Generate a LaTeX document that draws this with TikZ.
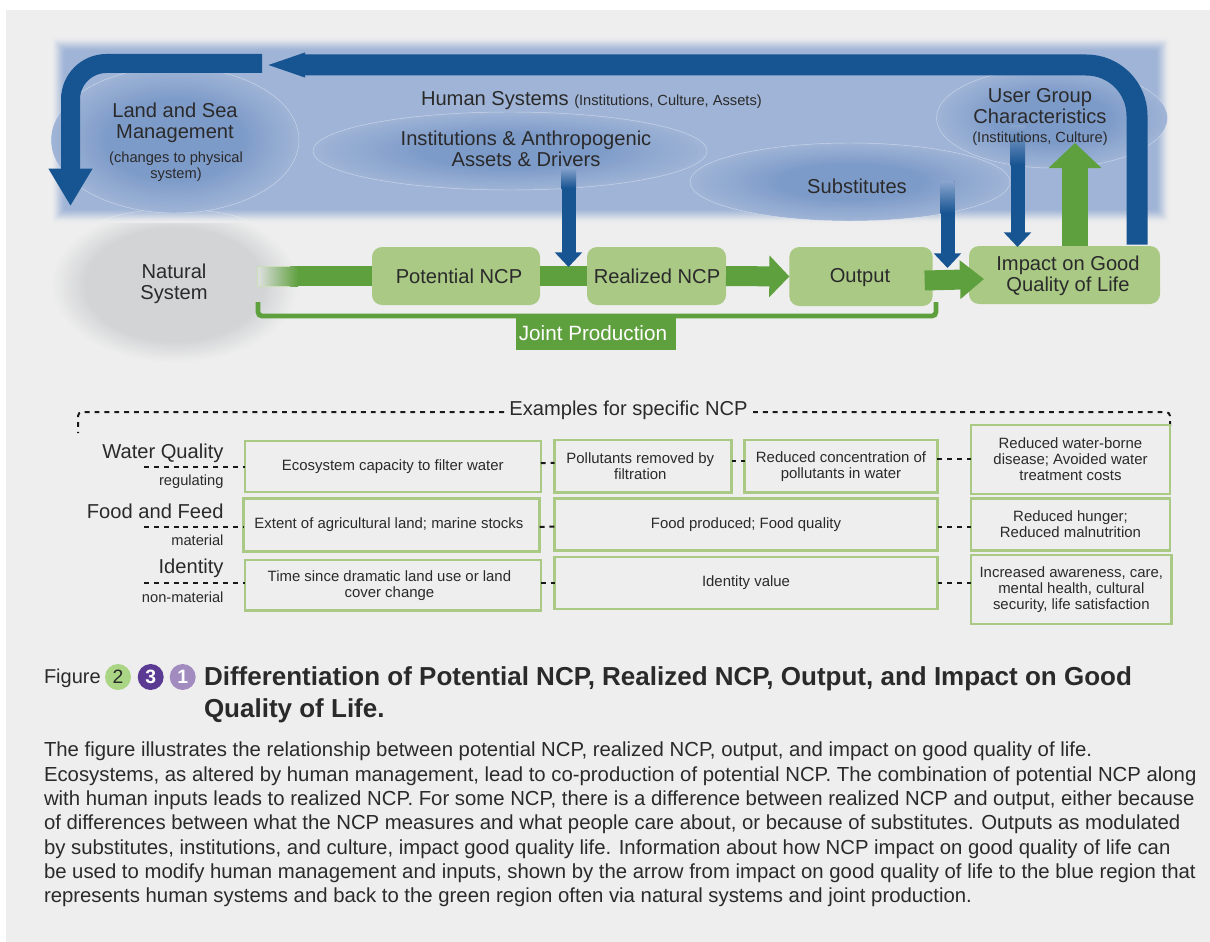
\documentclass[tikz,border=0pt]{standalone}
\usepackage{fontspec}
\setmainfont{Liberation Sans}
\usetikzlibrary{arrows.meta,calc,shapes.geometric}
\definecolor{panel}{HTML}{EEEEEE}
\definecolor{hsblue}{HTML}{9FB4D6}
\definecolor{hsdeep}{HTML}{7D9BC9}
\definecolor{arrowblue}{HTML}{175492}
\definecolor{boxgreen}{HTML}{A9C985}
\definecolor{arrowgreen}{HTML}{5FA03E}
\definecolor{natgrey}{HTML}{D3D4D6}
\definecolor{ink}{HTML}{2B2A2B}
\definecolor{cgreen}{HTML}{A9D584}
\definecolor{cpurple}{HTML}{5A3A92}
\definecolor{clilac}{HTML}{A28BBF}
% nested ellipses: centre x, centre y, x radius, y radius, edge colour, core colour, core fraction
\newcommand{\softblob}[7]{%
  \foreach \k in {0,...,24}{%
    \pgfmathsetmacro{\ff}{1-(\k/24)*(1-#7)}%
    \pgfmathsetmacro{\mm}{100*\k/24}%
    \colorlet{blobcol}{#6!\mm!#5}%
    \fill[blobcol] (#1,#2) ellipse [x radius=#3*\ff,y radius=#4*\ff];
  }%
}
\newcommand{\szbig}{\fontsize{15.1}{16}\selectfont}
\newcommand{\szsmall}{\fontsize{11}{12}\selectfont}
\newcommand{\szbox}{\fontsize{11.2}{12}\selectfont}
\tikzset{
  x=0.75pt,y=-0.75pt,
  every node/.style={text=ink,inner sep=0pt,outer sep=0pt},
  lbl/.style={font=\szbig,align=center},
  lblsmall/.style={font=\szsmall,align=center},
  ellrim/.style={draw=white,draw opacity=.45,line width=.35pt},
  stagebox/.style={fill=boxgreen,rounded corners=7.5pt},
  gbar/.style={draw=arrowgreen,line width=15pt},
  garrow/.style={draw=arrowgreen,-{Triangle[length=15pt,width=30.5pt]}},
  bdown/.style={draw=arrowblue,line width=10.5pt,-{Triangle[length=11pt,width=20pt]}},
  exbox/.style={draw=boxgreen,line width=1.8pt,font=\szbox,align=center,fill=panel},
  dashline/.style={draw=black!90,line width=1.5pt,dash pattern=on 3.7pt off 3.7pt},
  rowname/.style={font=\szbig,anchor=east},
  rowkind/.style={font=\szsmall,anchor=east},
  badge/.style={circle,minimum size=19.5pt,font=\fontsize{14.5}{16}\selectfont}
}
\begin{document}
\begin{tikzpicture}
\useasboundingbox (0,0) rectangle (1210,942);
\fill[white] (0,0) rectangle (1210,942);
\fill[panel] (6,10) rectangle (1210,942);
% natural system
\softblob{175}{285}{124}{78}{panel}{natgrey}{0.72}
% human systems region with soft edge
\foreach \i in {0,...,15}{
  \pgfmathsetmacro{\tt}{(\i+1)/16}
  \pgfmathsetmacro{\mixp}{100*\tt*\tt*(3-2*\tt)}
  \colorlet{stepcol}{hsblue!\mixp!panel}
  \fill[stepcol,rounded corners=2pt] (51+\i,37+\i) rectangle (1170-\i,223-\i);
}
\draw[white,opacity=.4,line width=.35pt] (100,222) .. controls (130,205) and (220,205) .. (250,222);
% soft ellipses
\softblob{175}{140}{124}{73}{hsblue}{hsdeep}{0.55}
\draw[ellrim] (175,140) ellipse [x radius=124,y radius=73];
\softblob{510}{151}{197}{39}{hsblue}{hsdeep}{0.45}
\draw[ellrim] (510,151) ellipse [x radius=197,y radius=39];
\softblob{850}{182}{160}{39}{hsblue}{hsdeep}{0.45}
\draw[ellrim] (850,182) ellipse [x radius=160,y radius=39];
\softblob{1052}{118}{115.5}{50}{hsblue}{hsdeep}{0.5}
\draw[ellrim] (1052,118) ellipse [x radius=115.5,y radius=50];
% stage boxes
\node[stagebox,minimum width=126pt,minimum height=43.5pt] (pot) at (456,276) {};
\node[stagebox,minimum width=104.25pt,minimum height=43.5pt] (real) at (656.5,276) {};
\node[stagebox,minimum width=107.5pt,minimum height=44.25pt] (out) at (861,276.5) {};
\node[stagebox,minimum width=143.25pt,minimum height=43.5pt] (imp) at (1064.5,275) {};
% free ends
\coordinate (barstart) at (257,276);
\coordinate (fbstart) at (262,63.5);
\coordinate (fbcorner) at (70.5,63.5);
\coordinate (fbend) at (70.5,206);
\coordinate (toptip) at (263,65);
\coordinate (topcorner) at (1137,65);
\coordinate (instsrc) at (568.5,167);
\coordinate (subsrc) at (947.5,181);
\coordinate (usersrc) at (1017.5,125);
\coordinate (usertip) at (1075,143);
% green flow
\draw[gbar] (barstart) -- (pot.west);
\shade[left color=natgrey!70!white,middle color=natgrey!65!arrowgreen,right color=arrowgreen] (257,266) rectangle (298,286);
\draw[boxgreen!60,line width=.4pt] (290,266) -- (257,266) -- (257,286) -- (290,286);
\draw[gbar] (pot.east) -- (real.west);
\draw[garrow,line width=15pt] (real.east) -- (out.west);
\draw[garrow,line width=15pt,-{Triangle[length=18pt,width=28pt]}] ([xshift=-6pt,yshift=-3pt]out.east) -- ([xshift=11.25pt,yshift=-3pt]imp.west);
\draw[draw=arrowgreen,line width=19.5pt,-{Triangle[length=18.75pt,width=38.5pt]}] (imp.north -| usertip) -- (usertip);
% feedback arrows
\draw[draw=arrowblue,line width=14.25pt,rounded corners=27pt,-{Triangle[length=28pt,width=31pt]}] (fbstart) -- (fbcorner) -- (fbend);
\draw[draw=arrowblue,line width=15.75pt,rounded corners=38pt,-{Triangle[length=31.5pt,width=15.75pt]}] ([yshift=1pt]imp.north -| topcorner) -- (topcorner) -- (toptip);
% blue down arrows with fading top
\draw[bdown] (instsrc) -- ([yshift=6.75pt]instsrc |- pot.center);
\draw[bdown] (subsrc) -- ([yshift=-15.75pt]subsrc |- out.north);
\draw[bdown] (usersrc) -- ([yshift=-.75pt]usersrc |- imp.north);
\shade[top color=hsdeep!90!white,bottom color=arrowblue] (561,167) rectangle (576,188);
\shade[top color=hsdeep!90!white,bottom color=arrowblue] (940.5,181) rectangle (954.5,213);
\shade[top color=hsdeep!90!white,bottom color=arrowblue] (1010.5,125) rectangle (1025,165);
% joint production
\node[fill=arrowgreen,text=white,font=\fontsize{15.5}{16}\selectfont,minimum width=120pt,minimum height=24pt] (joint) at (596,334) {\hspace*{-4.5pt}\raisebox{1.2pt}{Joint Production}};
\coordinate (jl) at (258,302);
\coordinate (jr) at (936,302);
\draw[draw=arrowgreen,line width=3.6pt,rounded corners=3pt] (jl) -- (258,316) -- (936,316) -- (jr);
% labels in the top part
\node[lbl] (potl) at (459,276.5) {Potential NCP};
\node[lbl] (reall) at (657,276) {Realized NCP};
\node[lbl] (outl) at (860,278) {Output};
\node[lbl] (impl) at (1068,276) {Impact on Good\\[-0.2pt]Quality of Life};
\node[lbl] (land) at (175,122.5) {Land and Sea\\[-0.2pt]Management};
\node[lblsmall] (landsub) at (176,166.5) {(changes to physical\\system)};
\node[lbl,anchor=base west] (hs) at (421,105) {Human Systems \szsmall(Institutions, Culture, Assets)};
\node[lbl] (inst) at (526,149) {Institutions \& Anthropogenic\\[-0.2pt]Assets \& Drivers};
\node[lbl] (subs) at (857,186.5) {Substitutes};
\node[lbl] (user) at (1040,106) {User Group\\[-0.2pt]Characteristics};
\node[lblsmall] (usersub) at (1040,139) {(Institutions, Culture)};
\node[lbl] (nat) at (174,284) {Natural\\[-0.2pt]System};
% examples
\node[font=\szbig] (ex) at (628.5,410.5) {Examples for specific NCP};
\coordinate (extop) at (0,412);
\coordinate (exl) at (78,433);
\coordinate (exr) at (1170,428);
\draw[dashline,rounded corners=3pt] ([xshift=-4pt]ex.west |- extop) -- (exl |- extop) -- (exl);
\draw[dashline,rounded corners=3pt] ([xshift=4pt]ex.east |- extop) -- (exr |- extop) -- (exr);
% row 1
\node[exbox,minimum width=222pt,minimum height=38.25pt] (a1) at (392.75,466.6) {Ecosystem capacity to filter water};
\node[exbox,minimum width=132.75pt,minimum height=39.5pt] (a2) at (643,466.35) {\hspace*{-4pt}Pollutants removed by\\\hspace*{-4pt}filtration};
\node[exbox,minimum width=144.5pt,minimum height=39.5pt] (a3) at (841,466.35) {Reduced concentration of\\pollutants in water};
\node[exbox,minimum width=149.25pt,minimum height=51.75pt] (a4) at (1070.5,459.5) {Reduced water-borne\\disease; Avoided water\\treatment costs};
% row 2
\node[exbox,minimum width=222pt,minimum height=39.5pt] (b1) at (391.6,525) {\hspace*{-4pt}Extent of agricultural land; marine stocks};
\node[exbox,minimum width=287.25pt,minimum height=38.75pt] (b2) at (746,524.5) {Food produced; Food quality};
\node[exbox,minimum width=149.25pt,minimum height=38.75pt] (b4) at (1070.5,524.5) {Reduced hunger;\\Reduced malnutrition};
% row 3
\node[exbox,minimum width=222pt,minimum height=38pt] (c1) at (392.75,585.35) {\hspace*{-5pt}Time since dramatic land use or land\\\hspace*{-5pt}cover change};
\node[exbox,minimum width=287.25pt,minimum height=38.75pt] (c2) at (746,583) {Identity value};
\node[exbox,minimum width=150.5pt,minimum height=52pt] (c4) at (1071.3,589.6) {Increased awareness, care,\\mental health, cultural\\security, life satisfaction};
% row labels
\node[rowname] (r1) at (223.5,453.5) {Water Quality};
\node[rowkind] (k1) at (223.5,482) {regulating};
\node[rowname] (r2) at (223.5,511.5) {Food and Feed};
\node[rowkind] (k2) at (223.5,540) {material};
\node[rowname] (r3) at (223.5,568.5) {Identity};
\node[rowkind] (k3) at (223.5,597) {non-material};
\coordinate (d1) at (144,467);
\coordinate (d2) at (144,527);
\coordinate (d3) at (144,583);
\draw[dashline] (d1) -- (d1 -| a1.west);
\draw[dashline] (d2) -- (d2 -| b1.west);
\draw[dashline] (d3) -- (d3 -| c1.west);
\draw[dashline] ([yshift=2.6pt]a1.east) -- ([yshift=2.6pt]a2.west);
\draw[dashline] ([yshift=3.8pt]a2.east) -- ([yshift=3.8pt]a3.west);
\draw[dashline] ([yshift=.3pt]a3.east |- a4.west) -- ([yshift=.3pt]a4.west);
\draw[dashline] ([yshift=-1.5pt]b1.east) -- ([yshift=-1.5pt]b2.west);
\draw[dashline] ([yshift=-1.9pt]b2.east) -- ([yshift=-1.9pt]b4.west);
\draw[dashline] (c1.east |- c2.east) -- (c2.west);
\draw[dashline] (c2.east) -- (c2.east -| c4.west);
% caption
\node[anchor=base west,font=\fontsize{15}{16}\selectfont] (fig) at (44,683) {Figure};
\node[badge,fill=cgreen] (n2) at (118,677) {2};
\node[badge,fill=cpurple,text=white] (n3) at (150.7,677) {\bfseries 3};
\node[badge,fill=clilac,text=white] (n1) at (182.7,677) {\bfseries 1};
\node[anchor=north west,align=left,font=\fontsize{19.5}{24}\bfseries\selectfont] (title) at (204,667) {Differentiation of Potential NCP, Realized NCP, Output, and Impact on Good\\Quality of Life.};
\node[anchor=north west,align=left,font=\fontsize{15.25}{18.25}\selectfont] (body) at (44,742) {The figure illustrates the relationship between potential NCP, realized NCP, output, and impact on good quality of life.\\
Ecosystems, as altered by human management, lead to co-production of potential NCP. The combination of potential NCP along\\
with human inputs leads to realized NCP. For some NCP, there is a difference between realized NCP and output, either because\\
of differences between what the NCP measures and what people care about, or because of substitutes. Outputs as modulated\\
by substitutes, institutions, and culture, impact good quality life. Information about how NCP impact on good quality of life can\\
be used to modify human management and inputs, shown by the arrow from impact on good quality of life to the blue region that\\
represents human systems and back to the green region often via natural systems and joint production.};
\end{tikzpicture}
\end{document}
